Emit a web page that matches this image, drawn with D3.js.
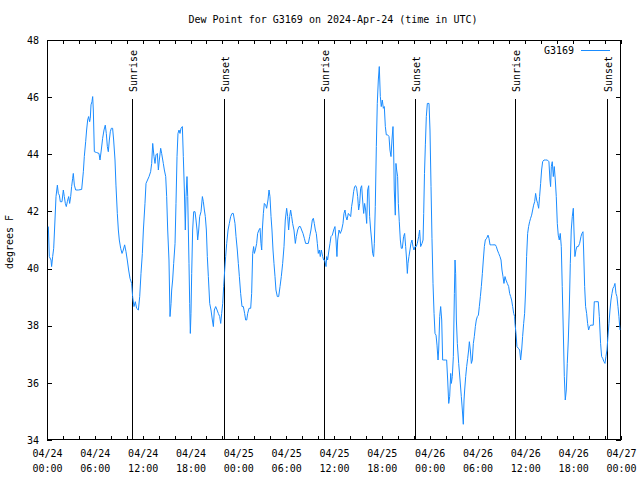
<!DOCTYPE html>
<html><head><meta charset="utf-8">
<script src="https://cdn.jsdelivr.net/npm/d3@7"></script>
<style>
body{margin:0;background:#fff}
svg text{font-family:"DejaVu Sans Mono","Liberation Mono",monospace;font-size:10px;fill:#000}
</style>
</head><body><svg id="c" width="640" height="480"></svg>
<script>
// hours since 2024-04-24 00:00 UTC
const hours = [
0.17,0.29,0.50,0.58,0.71,0.84,1.00,1.13,1.30,1.42,1.55,1.67,1.88,2.05,2.17,2.30,2.42,2.55,2.72,2.84,2.97,3.09,3.22,3.30,3.43,3.60,3.93,4.35,4.56,4.68,4.85,4.97,5.10,5.22,5.35,5.43,5.52,5.64,5.73,5.81,5.94,6.23,6.52,6.65,6.81,6.98,7.15,7.31,7.44,7.57,7.69,7.82,7.94,8.07,8.23,8.36,8.53,8.65,8.82,8.95,9.07,9.24,9.41,9.57,9.74,9.91,10.07,10.24,10.41,10.62,10.74,10.91,11.08,11.24,11.46,
11.63,11.79,11.96,12.09,12.29,12.42,12.80,13.00,13.13,13.26,13.42,13.55,13.67,13.84,13.97,14.09,14.26,14.38,14.59,14.72,14.89,15.01,15.14,15.30,15.43,15.56,15.64,15.76,15.89,16.06,16.18,16.31,16.43,16.56,16.68,16.81,16.98,17.10,17.23,17.35,17.44,17.56,17.65,17.73,17.81,17.90,17.98,18.06,18.15,18.27,18.40,18.57,18.69,18.82,18.90,19.03,19.15,19.32,19.49,19.61,19.74,19.86,19.99,20.11,20.24,20.41,20.57,20.74,20.87,20.99,21.16,21.33,21.49,21.66,21.79,21.91,22.04,22.16,22.29,22.41,22.54,22.71,22.87,23.04,23.21,23.37,
23.58,23.71,23.87,24.00,24.13,24.29,24.46,24.63,24.79,24.92,25.05,25.17,25.34,25.55,25.67,25.80,25.92,26.01,26.13,26.30,26.42,26.59,26.72,26.84,26.93,27.01,27.14,27.26,27.43,27.55,27.72,27.85,27.97,28.10,28.22,28.35,28.47,28.60,28.72,28.89,29.06,29.23,29.39,29.56,29.73,29.89,30.06,30.19,30.31,30.44,30.56,30.69,30.81,30.98,31.15,31.27,31.44,31.61,31.78,31.94,32.11,32.28,32.44,32.61,32.78,32.95,33.11,33.28,33.41,33.53,33.66,33.78,33.91,34.03,34.16,34.28,34.41,34.58,34.70,34.83,
35.00,35.08,35.20,35.37,35.50,35.62,35.79,35.96,36.12,36.25,36.37,36.46,36.63,36.79,36.96,37.13,37.25,37.38,37.50,37.63,37.80,37.96,38.09,38.21,38.34,38.46,38.59,38.72,38.84,38.97,39.09,39.22,39.34,39.47,39.59,39.72,39.84,39.97,40.10,40.22,40.35,40.47,40.60,40.72,40.85,40.97,41.06,41.18,41.31,41.43,41.56,41.68,41.81,41.93,42.06,42.19,42.31,42.44,42.56,42.73,42.90,43.02,43.15,43.27,43.40,43.48,43.56,43.69,43.77,43.86,43.98,44.07,44.19,44.32,44.44,44.57,44.73,44.86,44.99,45.11,45.20,45.28,45.40,45.53,45.65,45.78,45.91,46.03,46.16,46.32,46.45,46.62,46.74,46.87,
47.04,47.17,47.25,47.35,47.46,47.58,47.71,47.92,48.04,48.17,48.29,48.42,48.55,48.67,48.80,48.92,49.05,49.13,49.26,49.38,49.51,49.63,49.76,49.97,50.13,50.26,50.39,50.51,50.64,50.72,50.84,50.97,51.10,51.18,51.26,51.35,51.47,51.64,51.81,51.97,52.10,52.22,52.31,52.39,52.52,52.64,52.77,52.89,52.98,53.10,53.23,53.35,53.48,53.60,53.73,53.85,53.98,54.11,54.23,54.36,54.48,54.61,54.73,54.86,54.98,55.15,55.32,55.44,55.57,55.74,55.91,56.07,56.24,56.36,56.49,56.66,56.82,56.95,57.07,57.20,57.32,57.45,57.57,57.74,57.91,58.03,58.16,58.28,58.41,58.54,58.66,
58.70,58.83,58.95,59.12,59.29,59.41,59.54,59.66,59.79,59.91,60.04,60.16,60.29,60.41,60.54,60.66,60.79,60.92,61.04,61.17,61.29,61.42,61.54,61.67,61.79,61.92,62.04,62.17,62.34,62.55,62.76,62.96,63.09,63.17,63.26,63.38,63.51,63.63,63.76,63.88,64.01,64.13,64.26,64.38,64.51,64.63,64.76,64.89,65.01,65.14,65.26,65.39,65.51,65.64,65.76,65.89,66.02,66.10,66.22,66.35,66.47,66.64,66.81,66.98,67.10,67.23,67.31,67.44,67.56,67.69,67.81,67.94,68.06,68.19,68.36,68.52,68.65,68.82,68.99,69.15,69.28,69.44,69.57,69.70,69.86,69.99,70.11,70.24,70.36,70.49,70.62,70.74,70.87,70.99,71.12,71.24,71.37,71.49,71.62,71.74,71.87
];
const dewF = [
41.47,40.42,40.30,40.07,40.42,40.71,41.70,42.52,42.92,42.63,42.57,42.34,42.34,42.75,42.52,42.28,42.17,42.34,42.52,42.28,42.52,42.87,43.16,43.33,42.92,42.75,42.75,42.77,43.39,43.92,44.44,44.85,45.20,45.32,45.14,45.26,45.73,45.84,46.02,45.55,44.09,44.06,44.03,43.80,44.15,44.56,44.85,45.02,44.73,44.27,44.09,44.50,44.79,44.91,44.91,44.50,43.80,42.92,41.93,41.35,41.00,40.71,40.53,40.65,40.83,40.59,40.30,39.95,39.66,39.48,39.02,38.67,38.84,38.61,38.55,
39.02,39.83,40.53,41.35,42.28,42.98,43.22,43.39,43.68,44.38,43.92,43.68,43.98,44.03,43.45,43.80,44.21,44.03,43.68,43.45,43.22,42.52,41.35,40.30,38.32,38.78,39.25,39.60,40.18,40.88,42.28,43.92,44.73,44.85,44.73,44.91,44.97,43.92,42.75,41.35,42.52,43.22,42.52,41.35,40.18,38.78,37.73,38.43,39.83,41.35,41.99,41.99,41.70,41.35,41.00,41.35,41.82,41.99,42.52,42.34,42.05,41.82,41.35,40.42,39.72,38.78,38.55,38.20,37.97,38.55,38.67,38.55,38.43,38.32,38.08,38.43,38.78,39.37,39.95,40.42,40.88,41.35,41.58,41.82,41.93,41.93,
41.58,41.12,40.65,40.18,39.72,39.13,38.67,38.67,38.43,38.20,38.20,38.43,38.61,38.61,39.13,40.53,40.77,40.53,40.65,40.88,41.23,41.35,41.41,40.88,40.65,41.35,41.93,42.28,42.22,42.11,42.40,42.75,42.52,41.82,41.35,40.65,40.18,39.72,39.25,39.02,39.02,39.37,39.72,40.18,40.77,41.70,42.11,41.82,41.35,41.82,42.05,41.82,41.58,41.35,40.88,41.12,41.35,41.47,41.47,41.35,41.23,41.06,40.88,40.88,40.88,41.12,41.35,41.70,41.76,41.58,41.35,41.23,40.88,40.53,40.65,40.42,40.65,40.42,40.30,40.30,
40.07,40.42,40.30,40.65,40.88,41.12,41.17,41.35,41.47,41.00,40.42,41.00,41.35,41.23,41.35,41.58,41.93,42.05,41.82,41.70,41.93,41.87,41.82,42.17,42.40,42.69,42.87,42.90,42.81,42.52,42.05,42.28,42.81,42.90,42.40,41.93,42.28,42.05,41.58,42.75,42.90,41.82,41.35,41.00,40.53,40.42,40.88,42.17,44.27,45.78,46.60,47.07,46.02,45.67,45.90,45.61,45.67,44.97,44.68,44.68,44.62,44.15,43.92,44.50,44.97,44.15,42.75,41.87,43.68,43.45,43.22,42.28,41.64,41.00,40.71,40.71,41.12,41.23,40.77,40.30,39.83,40.18,40.42,40.65,40.88,41.00,40.77,40.65,40.77,40.77,40.88,41.12,41.35,40.77,
40.88,41.00,41.93,43.33,44.33,45.32,45.78,45.78,44.85,42.87,41.06,39.48,38.43,37.73,37.67,37.32,36.80,37.15,38.32,38.67,38.20,36.80,36.80,36.80,36.80,36.10,35.28,35.52,36.33,35.98,36.22,36.92,39.13,40.30,39.83,38.20,37.38,36.68,36.10,35.52,35.05,34.55,35.40,35.75,36.22,36.57,36.86,37.15,37.44,37.15,36.68,36.80,37.38,37.62,37.97,38.20,38.32,38.37,38.67,39.02,39.37,39.83,40.30,40.77,41.00,41.06,41.17,41.06,40.83,40.83,40.83,40.83,40.83,40.77,40.65,40.53,40.42,40.30,39.95,39.72,39.48,39.72,39.60,39.48,39.37,39.13,39.02,38.90,38.67,38.43,38.32,
38.08,37.73,37.27,37.21,37.15,36.80,37.15,37.62,38.08,38.43,39.25,40.42,41.23,41.47,41.64,41.76,41.87,42.05,42.22,42.34,42.63,42.40,42.28,42.11,42.52,42.98,43.45,43.74,43.80,43.80,43.80,43.74,43.10,42.87,43.57,43.74,43.22,43.57,43.10,42.52,41.58,41.17,41.00,41.23,40.77,39.37,37.85,36.22,35.40,35.75,36.68,37.50,38.55,40.18,41.35,41.82,42.11,41.35,40.42,40.65,40.77,40.77,40.88,41.12,41.23,41.29,40.65,39.37,38.67,38.43,38.08,37.85,37.97,38.02,38.02,38.02,38.84,38.84,38.84,38.84,38.32,37.38,36.92,36.86,36.74,36.68,36.92,37.15,37.62,38.08,38.55,38.90,39.13,39.31,39.37,39.48,39.13,39.02,38.67,38.32,37.85
];
const sunHours = [10.68, 22.22, 34.77, 46.17, 58.72, 70.27];
const sunLabels = ["Sunrise","Sunset","Sunrise","Sunset","Sunrise","Sunset"];
const yTicks = [34,36,38,40,42,44,46,48];
const labelHours = [0,6,12,18,24,30,36,42,48,54,60,66,72];
const minorHours = d3.range(0, 73, 2);
const seriesName = "G3169";
const titleText = "Dew Point for G3169 on 2024-Apr-24 (time in UTC)";
const yLabel = "degrees F";

const start = Date.UTC(2024,3,24);
const toDate = h => new Date(start + h*3600000);
const lineColor = "#1a8cff";

const svg = d3.select("#c");
const L=47, R=621, T=40, B=440;
const x = d3.scaleUtc().domain([toDate(0), toDate(72)]).range([L, R]);
const y = d3.scaleLinear().domain([34,48]).range([B, T]);

svg.append("rect").attr("width",640).attr("height",480).attr("fill","#fff");

// title
svg.append("text").attr("x",333).attr("y",23).attr("text-anchor","middle").text(titleText);

// y label
svg.append("text").attr("transform","translate(13,242) rotate(-90)").attr("text-anchor","middle").text(yLabel);

// axes
svg.append("g").attr("transform",`translate(0,${B})`)
  .call(d3.axisBottom(x).tickValues(minorHours.map(toDate)).tickSize(-4).tickFormat(""));
svg.append("g").attr("transform",`translate(0,${T})`)
  .call(d3.axisTop(x).tickValues(minorHours.map(toDate)).tickSize(-4).tickFormat(""));
const fmtD = d3.utcFormat("%m/%d"), fmtT = d3.utcFormat("%H:%M");
const gxl = svg.append("g").attr("transform",`translate(0,${B})`)
  .call(d3.axisBottom(x).tickValues(labelHours.map(toDate)).tickSize(0).tickPadding(10).tickFormat(fmtD));
gxl.selectAll(".tick text").each(function(d){
  d3.select(this).append("tspan").attr("x",0).attr("dy","1.5em").text(fmtT(d));
});
svg.append("g").attr("transform",`translate(${L},0)`)
  .call(d3.axisLeft(y).tickValues(yTicks).tickSize(-5).tickPadding(8).tickFormat(d3.format("d")));
svg.append("g").attr("transform",`translate(${R},0)`)
  .call(d3.axisRight(y).tickValues(yTicks).tickSize(-5).tickFormat(""));
svg.selectAll(".domain").remove();
svg.selectAll(".tick line").attr("stroke","#000").attr("shape-rendering","crispEdges");
svg.selectAll(".tick text").attr("font-family",null).attr("font-size",null).attr("fill","#000");

// sunrise / sunset
const sg = svg.append("g");
sunHours.forEach((h,i)=>{
  const xx = Math.round(x(toDate(h)))+0.5;
  sg.append("line").attr("x1",xx).attr("x2",xx).attr("y1",99).attr("y2",B)
    .attr("stroke","#000").attr("stroke-width",1).attr("shape-rendering","crispEdges");
  sg.append("text").attr("transform",`translate(${xx+4.5},92) rotate(-90)`)
    .attr("text-anchor","start").text(sunLabels[i]);
});

// frame
svg.append("rect").attr("x",L+0.5).attr("y",T+0.5).attr("width",R-L-1).attr("height",B-T-1)
  .attr("fill","none").attr("stroke","#000").attr("shape-rendering","crispEdges");

// data line
const data = hours.map((h,i)=>({t:toDate(h), v:dewF[i]}));
svg.append("path").datum(data)
  .attr("fill","none").attr("stroke",lineColor).attr("stroke-width",1)
  .attr("d", d3.line().x(d=>x(d.t)).y(d=>y(d.v)));

// legend
svg.append("text").attr("x",574).attr("y",54).attr("text-anchor","end").text(seriesName);
svg.append("line").attr("x1",581).attr("x2",610).attr("y1",50.5).attr("y2",50.5)
  .attr("stroke",lineColor).attr("stroke-width",1).attr("shape-rendering","crispEdges");
</script>
</body></html>
